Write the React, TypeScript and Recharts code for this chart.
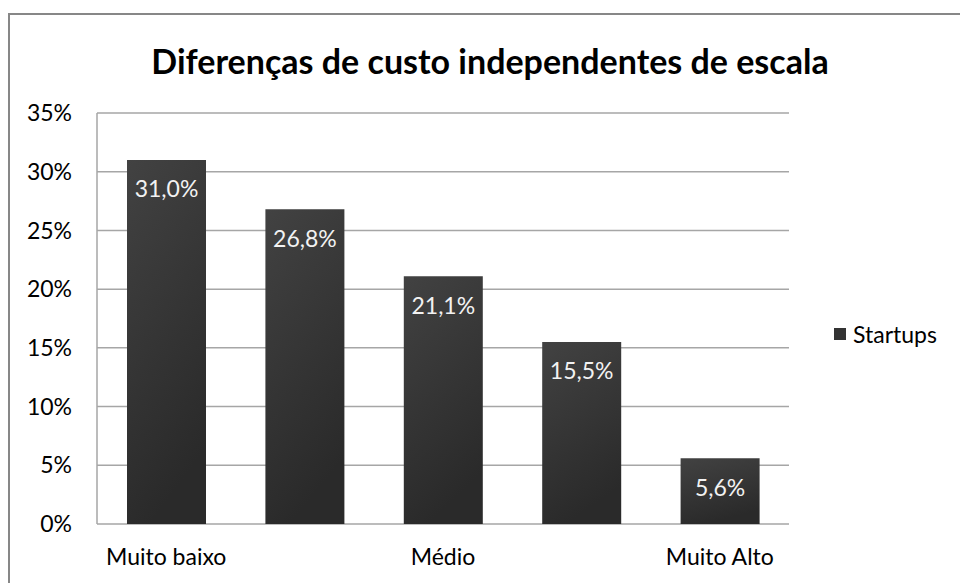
import { BarChart, Bar, XAxis, YAxis, CartesianGrid, Legend, LabelList } from 'recharts';

const categories = ['Muito baixo', 'Baixo', 'Médio', 'Alto', 'Muito Alto'];
const startups = [31.0, 26.8, 21.1, 15.5, 5.6];
const yTicks = [0, 5, 10, 15, 20, 25, 30, 35];

const data = categories.map((name, i) => ({ name, Startups: startups[i] }));

const FONT = 'Lato, "Open Sans", sans-serif';

function pct(v: number): string {
  return v.toFixed(1).replace('.', ',') + '%';
}

function LegendBox() {
  return (
    <div style={{ display: 'flex', alignItems: 'center', fontFamily: FONT, fontSize: 23, color: '#000' }}>
      <span style={{ display: 'inline-block', width: 12, height: 12, background: '#333', marginRight: 7 }} />
      Startups
    </div>
  );
}

export default function App() {
  return (
    <div style={{ position: 'absolute', left: 0, top: 0, width: 960, height: 583, background: '#fff', overflow: 'hidden' }}>
      <div style={{
        position: 'absolute', left: 8, top: 13, width: 960, height: 600,
        borderLeft: '2px solid #878787', borderTop: '2px solid #878787',
      }} />
      <div style={{
        position: 'absolute', left: 0, top: 40, width: 980, textAlign: 'center',
        fontFamily: FONT, fontWeight: 700, fontSize: 34, color: '#000',
      }}>
        Diferenças de custo independentes de escala
      </div>
      <BarChart
        width={960}
        height={583}
        data={data}
        margin={{ top: 113, right: 51, left: 0, bottom: 0 }}
        style={{ position: 'absolute', left: 0, top: 0 }}
      >
        <defs>
          <linearGradient id="barFill" x1="0" y1="0" x2="0.3" y2="1">
            <stop offset="0%" stopColor="#424242" />
            <stop offset="100%" stopColor="#2a2a2a" />
          </linearGradient>
        </defs>
        <CartesianGrid vertical={false} stroke="#a6a6a6" strokeWidth={1.5} />
        <XAxis
          dataKey="name"
          interval={1}
          axisLine={false}
          tickLine={false}
          tickSize={0}
          tickMargin={25}
          height={59}
          tick={{ fontSize: 23, fill: '#000', fontFamily: FONT }}
        />
        <YAxis
          domain={[0, 35]}
          ticks={yTicks}
          tickFormatter={(v: number) => v + '%'}
          width={97}
          axisLine={{ stroke: '#a6a6a6', strokeWidth: 1.5 }}
          tickLine={false}
          tickSize={0}
          tickMargin={25}
          tick={{ fontSize: 23, fill: '#000', fontFamily: FONT }}
        />
        <Legend
          layout="vertical"
          align="right"
          verticalAlign="middle"
          content={() => <LegendBox />}
          wrapperStyle={{ left: 834, top: 320, width: 120 }}
        />
        <Bar dataKey="Startups" fill="url(#barFill)" barSize={79} isAnimationActive={false}>
          <LabelList
            dataKey="Startups"
            position="insideTop"
            offset={21}
            formatter={(v: number) => pct(v)}
            style={{ fill: '#f2f2f2', fontSize: 23, fontFamily: FONT }}
          />
        </Bar>
      </BarChart>
    </div>
  );
}
